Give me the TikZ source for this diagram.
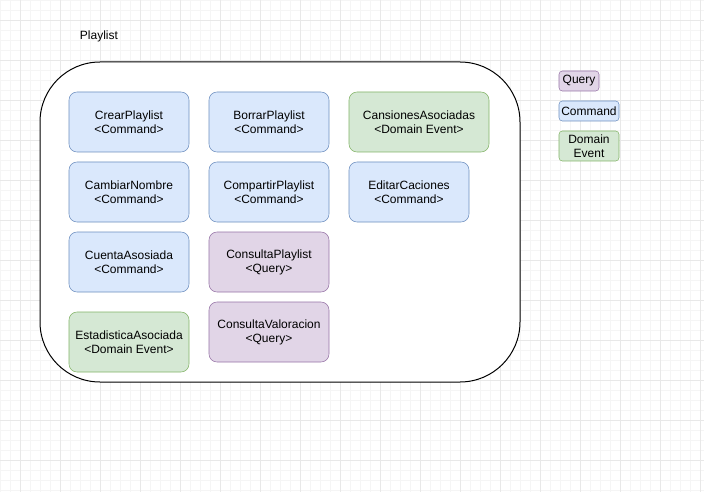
\documentclass[tikz,border=0pt]{standalone}
\usepackage{fontspec}
\setmainfont{Liberation Sans}
\usepackage{tikz}
\usetikzlibrary{positioning}
\definecolor{cmdfill}{HTML}{DAE8FC}
\definecolor{cmdline}{HTML}{6C8EBF}
\definecolor{evtfill}{HTML}{D5E8D4}
\definecolor{evtline}{HTML}{82B366}
\definecolor{qryfill}{HTML}{E1D5E7}
\definecolor{qryline}{HTML}{9673A6}
\definecolor{gridminor}{HTML}{F5F5F5}
\definecolor{gridmajor}{HTML}{E8E8E8}

\begin{document}
\begin{tikzpicture}[x=0.75pt,y=-0.75pt,font=\fontsize{9}{10.5}\selectfont,
  card/.style={draw,rounded corners=6pt,minimum width=90pt,minimum height=45pt,align=center,inner sep=0pt},
  command/.style={card,fill=cmdfill,draw=cmdline},
  event/.style={card,fill=evtfill,draw=evtline},
  query/.style={card,fill=qryfill,draw=qryline},
  legend/.style={draw,rounded corners=2.5pt,minimum height=15pt,align=center,inner sep=0pt}]
\useasboundingbox (0,0) rectangle (704,492);
\fill[white] (0,0) rectangle (704,492);
% background grid
\foreach \X in {0,10,...,700}
{\draw[gridminor,line width=0.5pt] (\X,0) -- (\X,492);}
\foreach \Y in {0,10,...,490}
{\draw[gridminor,line width=0.5pt] (0,\Y) -- (704,\Y);}
\foreach \X in {20,60,...,700}
{\draw[gridmajor,line width=0.5pt] (\X,0) -- (\X,492);}
\foreach \Y in {20,60,...,490}
{\draw[gridmajor,line width=0.5pt] (0,\Y) -- (704,\Y);}

\node (title) at (99,36) {Playlist};
\node[draw,fill=white,rounded corners=45pt,minimum width=360pt,minimum height=240pt,line width=0.75pt] (playlist) at (280,222) {};

\node[command] (crear) at (129,122) {CrearPlaylist\\<Command>};
\node[command] (borrar) at (269,122) {BorrarPlaylist\\<Command>};
\node[event,minimum width=105pt] (cansiones) at (419,122) {CansionesAsociadas\\<Domain Event>};
\node[command] (cambiar) at (129,192) {CambiarNombre\\<Command>};
\node[command] (compartir) at (269,192) {CompartirPlaylist\\<Command>};
\node[command] (editar) at (409,192) {EditarCaciones\\<Command>};
\node[command] (cuenta) at (129,262) {CuentaAsosiada\\<Command>};
\node[query] (consplaylist) at (269,262) {ConsultaPlaylist\\<Query>};
\node[event] (estadistica) at (129,342) {EstadisticaAsociada\\<Domain Event>};
\node[query] (consvaloracion) at (269,332) {ConsultaValoracion\\<Query>};

% legend
\node[legend,fill=qryfill,draw=qryline,minimum width=30pt] (lquery) at (579,81) {Query};
\node[legend,fill=cmdfill,draw=cmdline,minimum width=45pt] (lcommand) at (589,111) {Command};
\node[legend,fill=evtfill,draw=evtline,minimum width=45pt,minimum height=22.5pt] (levent) at (589,146) {Domain\\Event};
\end{tikzpicture}
\end{document}
